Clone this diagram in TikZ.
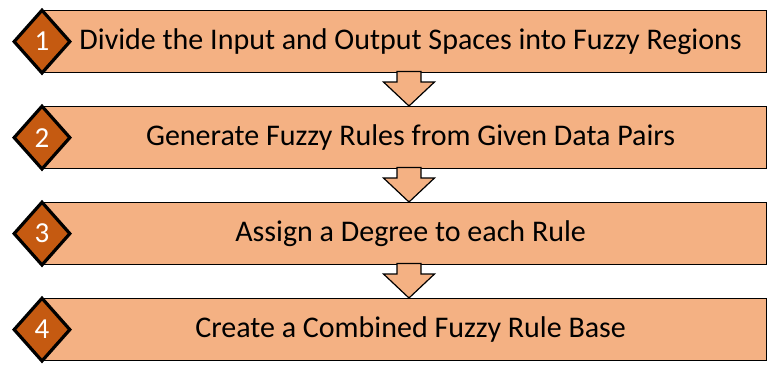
\documentclass[tikz,border=0pt]{standalone}
\usepackage{fontspec}
\setmainfont{Carlito}
\usetikzlibrary{shapes.geometric,calc}
\definecolor{peach}{HTML}{F4B183}
\definecolor{rust}{HTML}{C55A11}
\begin{document}
\begin{tikzpicture}[x=1pt,y=-1pt,
  stepbox/.style={draw=black,line width=1.2pt,fill=peach,rectangle,inner sep=0pt,
    minimum width=724pt,minimum height=62pt,font=\fontsize{30}{33}\selectfont,anchor=north west},
  numdiamond/.style={draw=black,line width=3.2pt,fill=rust,diamond,inner sep=0pt,
    minimum width=57pt,minimum height=64pt,text=white,font=\fontsize{29}{31}\selectfont},
  blockarrow/.style={draw=black,line width=1.2pt,fill=peach,line join=miter}]
\useasboundingbox (0,0) rectangle (769,365);
\coordinate (ax) at (409,0);
% boxes
\node[stepbox] (b1) at (42,10) {\hspace*{12pt}Divide the Input and Output Spaces into Fuzzy Regions};
\node[stepbox] (b2) at (42,106) {\hspace*{12pt}Generate Fuzzy Rules from Given Data Pairs};
\node[stepbox] (b3) at (42,202) {\hspace*{12pt}Assign a Degree to each Rule};
\node[stepbox] (b4) at (42,298) {\hspace*{12pt}Create a Combined Fuzzy Rule Base};
% block arrows between the boxes
\foreach \a/\b in {b1/b2,b2/b3,b3/b4}{
  \draw[blockarrow] (\b.north -| ax) -- ++(-25.5,-24) -- ++(13.5,0) -- ++(0,-10.6)
     -- ++(24,0) -- ++(0,10.6) -- ++(13.5,0) -- cycle;
}
% diamonds
\node[numdiamond] (d1) at (b1.west) {1};
\node[numdiamond] (d2) at (b2.west) {2};
\node[numdiamond] (d3) at (b3.west) {3};
\node[numdiamond] (d4) at (b4.west) {4};
\end{tikzpicture}
\end{document}
